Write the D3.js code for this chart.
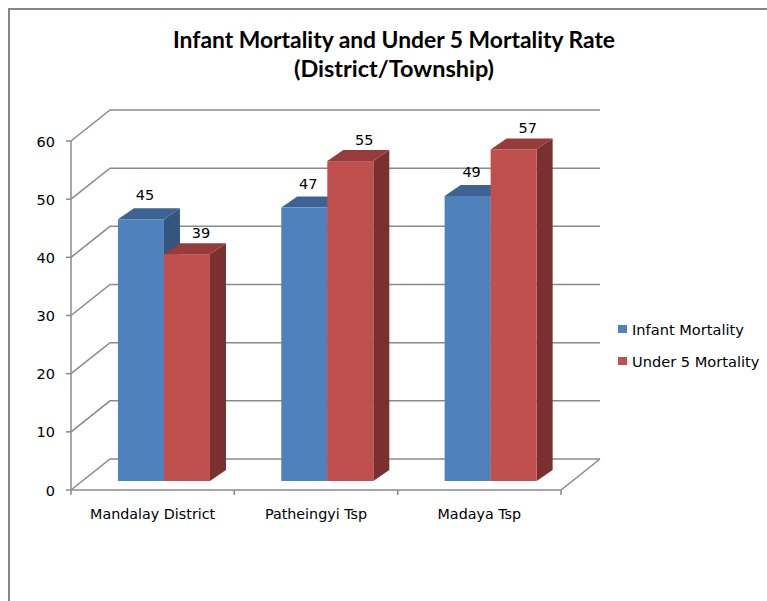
<!DOCTYPE html>
<html>
<head>
<meta charset="utf-8">
<script src="https://cdn.jsdelivr.net/npm/d3@7"></script>
<style>
  html, body { margin: 0; padding: 0; background: #fff; }
  svg { display: block; }
</style>
</head>
<body>
<svg id="chart" width="767" height="601"></svg>
<script>
// Chart data
const categories = ["Mandalay District", "Patheingyi Tsp", "Madaya Tsp"];
const seriesNames = ["Infant Mortality", "Under 5 Mortality"];
const infantMortality = [45, 47, 49];
const under5Mortality = [39, 55, 57];
const yTicks = [0, 10, 20, 30, 40, 50, 60];

const seriesValues = [infantMortality, under5Mortality];
const colors = [
  { front: "#4f81bd", top: "#3c6392", side: "#34557f" },
  { front: "#c0504d", top: "#963d3b", side: "#79302e" }
];

const svg = d3.select("#chart");
const fontMain = "'DejaVu Sans', Verdana, sans-serif";

// Outer chart frame
svg.append("rect")
  .attr("x", 9).attr("y", 9)
  .attr("width", 800).attr("height", 650)
  .attr("fill", "#fff")
  .attr("stroke", "#878787").attr("stroke-width", 2);

// Title
const title = svg.append("text")
  .attr("text-anchor", "middle")
  .attr("font-family", "Lato, 'Open Sans', sans-serif")
  .attr("font-weight", "bold")
  .attr("font-size", 23.5)
  .attr("fill", "#000");
title.append("tspan").attr("x", 394).attr("y", 48)
  .attr("textLength", 442).attr("lengthAdjust", "spacingAndGlyphs")
  .text("Infant Mortality and Under 5 Mortality Rate");
title.append("tspan").attr("x", 394).attr("y", 76.5)
  .attr("textLength", 200).attr("lengthAdjust", "spacingAndGlyphs")
  .text("(District/Township)");

// 3D plot geometry: front plane and the depth offset of the back wall
const left = 71, right = 561, floorY = 490, topY = 141;
const depthX = 39, depthY = 31;

const x = d3.scaleBand().domain(categories).range([left, right]).paddingInner(0).paddingOuter(0);
const xs = d3.scaleBand().domain(seriesNames).range([0, x.bandwidth()]).paddingInner(0).paddingOuter(0.775);
const y = d3.scaleLinear().domain([0, 60]).range([floorY, topY]);

const grid = svg.append("g")
  .attr("fill", "none")
  .attr("stroke", "#8a8a8a")
  .attr("stroke-width", 1.5);

// Gridlines: left-wall diagonal plus back-wall horizontal
yTicks.forEach(t => {
  const yf = y(t), yb = y(t) - depthY;
  grid.append("path")
    .attr("d", `M${left},${yf}L${left + depthX},${yb}L${right + depthX},${yb}`);
});
// Floor front edge and right edge
grid.append("path")
  .attr("d", `M${left},${floorY}L${right},${floorY}L${right + depthX},${floorY - depthY}`);
// Value axis line
grid.append("line")
  .attr("x1", left).attr("x2", left)
  .attr("y1", y(60)).attr("y2", floorY);
// Value axis ticks
yTicks.forEach(t => {
  grid.append("line")
    .attr("x1", left - 5).attr("x2", left)
    .attr("y1", y(t)).attr("y2", y(t));
});
// Category ticks at band boundaries
const boundaries = categories.map(c => x(c)).concat([right]);
boundaries.forEach(bx => {
  grid.append("line")
    .attr("x1", bx).attr("x2", bx)
    .attr("y1", floorY).attr("y2", floorY + 5);
});

// Value axis labels
svg.append("g")
  .selectAll("text")
  .data(yTicks)
  .join("text")
  .attr("x", 55)
  .attr("y", d => y(d) + 5.5)
  .attr("text-anchor", "end")
  .attr("font-family", fontMain)
  .attr("font-size", 14.5)
  .attr("fill", "#000")
  .text(d => d);

// Category labels
svg.append("g")
  .selectAll("text")
  .data(categories)
  .join("text")
  .attr("x", d => x(d) + x.bandwidth() / 2)
  .attr("y", 518.5)
  .attr("text-anchor", "middle")
  .attr("font-family", fontMain)
  .attr("font-size", 14.3)
  .attr("fill", "#000")
  .text(d => d);

// Bars: each sits partway into the floor depth
const barFrontDX = 11.3, barFrontDY = 9;   // offset of the bar's front face
const barDX = 16, barDY = 11;              // bar depth
const bars = svg.append("g");
const labels = [];

categories.forEach((cat, ci) => {
  seriesNames.forEach((s, si) => {
    const v = seriesValues[si][ci];
    const c = colors[si];
    const x0 = x(cat) + xs(s) + barFrontDX;
    const x1 = x0 + xs.bandwidth();
    const yb = y(0) - barFrontDY;
    const yt = y(v) - barFrontDY;
    const g = bars.append("g");
    // right side face
    g.append("path")
      .attr("d", `M${x1},${yt}L${x1 + barDX},${yt - barDY}L${x1 + barDX},${yb - barDY}L${x1},${yb}Z`)
      .attr("fill", c.side);
    // top face
    g.append("path")
      .attr("d", `M${x0},${yt}L${x0 + barDX},${yt - barDY}L${x1 + barDX},${yt - barDY}L${x1},${yt}Z`)
      .attr("fill", c.top);
    // front face
    g.append("rect")
      .attr("x", x0).attr("y", yt)
      .attr("width", x1 - x0).attr("height", yb - yt)
      .attr("fill", c.front);
    labels.push({
      v,
      lx: (x0 + x1) / 2 + (si === 0 ? 4 : 14),
      ly: yt - barDY - (si === 0 ? 8 : 5)
    });
  });
});

// Data labels
svg.append("g")
  .selectAll("text")
  .data(labels)
  .join("text")
  .attr("x", d => d.lx)
  .attr("y", d => d.ly)
  .attr("text-anchor", "middle")
  .attr("font-family", fontMain)
  .attr("font-size", 14.5)
  .attr("fill", "#000")
  .text(d => d.v);

// Legend
const legend = svg.append("g");
seriesNames.forEach((s, i) => {
  const ly = 325 + i * 32;
  legend.append("rect")
    .attr("x", 618).attr("y", ly)
    .attr("width", 9).attr("height", 8)
    .attr("fill", colors[i].front);
  legend.append("text")
    .attr("x", 632).attr("y", ly + 10)
    .attr("font-family", fontMain)
    .attr("font-size", 14.6)
    .attr("fill", "#000")
    .text(s);
});
</script>
</body>
</html>
